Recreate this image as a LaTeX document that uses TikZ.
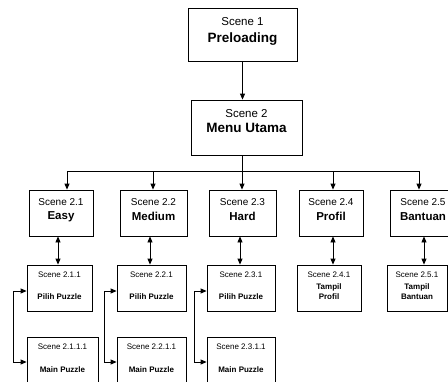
\documentclass[tikz,border=0pt]{standalone}
\usepackage{fontspec}
\setmainfont{Liberation Sans}
\usetikzlibrary{positioning, arrows.meta}

\tikzset{
  box/.style={draw, line width=0.8pt, inner sep=0pt},
  arr/.style={-{Triangle[length=6pt, width=5pt]}, line width=0.8pt},
  dblarr/.style={{Triangle[length=6pt, width=5pt]}-{Triangle[length=6pt, width=5pt]}, line width=0.8pt},
  sctop/.style={font=\fontsize{11.5}{13}\selectfont},
  nmtop/.style={font=\bfseries\fontsize{13.5}{16}\selectfont},
  scmid/.style={font=\fontsize{10}{12}\selectfont},
  nmmid/.style={font=\bfseries\fontsize{11.5}{13}\selectfont},
  scsub/.style={font=\fontsize{8}{10}\selectfont},
  nmsub/.style={font=\bfseries\fontsize{8}{10}\selectfont, align=center}
}

\begin{document}
\begin{tikzpicture}[x=1pt, y=-1pt]
  \useasboundingbox (0,0) rectangle (448,381);
  \clip (0,0) rectangle (448,381);

  % top scenes
  \node[box, minimum width=109pt, minimum height=53pt] (s1) at (242.5,34.5) {};
  \node[sctop] (s1sc) at ([yshift=-14pt]s1.north) {Scene 1};
  \node[nmtop] (s1nm) at ([yshift=-31pt]s1.north) {Preloading};

  \node[box, minimum width=111pt, minimum height=55pt] (s2) at (246.5,127.5) {};
  \node[sctop] (s2sc) at ([yshift=-14pt]s2.north) {Scene 2};
  \node[nmtop] (s2nm) at ([yshift=-28pt]s2.north) {Menu Utama};

  \draw[arr] (s1.south) -- (s1.south |- s2.north);
  \coordinate (bus) at (242.5,171);
  \draw[line width=0.8pt] (s1.south |- s2.south) -- (bus);

  % menu level
  \foreach \id/\sc/\x/\w/\nm/\dx in {%
      21/2.1/61/64/Easy/6,      22/2.2/153.5/67/Medium/-0.5,
      23/2.3/242.5/67/Hard/-0.5, 24/2.4/331/64/Profil/2,
      25/2.5/423/66/Bantuan/-4}
  {
    \node[box, minimum width=\w pt, minimum height=46pt] (s\id) at (\x,213) {};
    \node[scmid] (s\id sc) at ([yshift=-12pt]s\id.north) {Scene \sc};
    \node[nmmid] (s\id nm) at ([yshift=-27pt]s\id.north) {\nm};
    \draw[arr] ([xshift=\dx pt]s\id.north |- bus) -- ([xshift=\dx pt]s\id.north);
  }
  \draw[line width=0.8pt] ([xshift=6pt]s21.north |- bus) -- ([xshift=-4pt]s25.north |- bus);

  % sub scenes
  \foreach \id/\sc/\x/\w/\nm/\off/\dx in {%
      21/2.1.1/59.5/65/Pilih Puzzle/32/-3,
      22/2.2.1/151.5/69/Pilih Puzzle/32/-3.5,
      23/2.3.1/241/68/Pilih Puzzle/32/-2.5,
      24/2.4.1/329/64/Tampil\\Profil/27/2,
      25/2.5.1/417/60/Tampil\\Bantuan/27/1}
  {
    \node[box, minimum width=\w pt, minimum height=46pt] (s\id1) at (\x,288) {};
    \node[scsub] (s\id1sc) at ([yshift=-10pt]s\id1.north) {Scene \sc};
    \node[nmsub] (s\id1nm) at ([yshift=-\off pt]s\id1.north) {\nm};
    \draw[dblarr] ([xshift=\dx pt]s\id.south) -- ([xshift=\dx pt]s\id.south |- s\id1.north);
  }

  % game scenes
  \foreach \id/\sc/\x/\w/\gap in {%
      21/2.1.1.1/62.5/71/13, 22/2.2.1.1/151.5/69/12, 23/2.3.1.1/241/68/12}
  {
    \node[box, minimum width=\w pt, minimum height=50pt] (s\id11) at (\x,362) {};
    \node[scsub] (s\id11sc) at ([yshift=-10pt]s\id11.north) {Scene \sc};
    \node[nmsub] (s\id11nm) at ([yshift=-33pt]s\id11.north) {Main Puzzle};
    \draw[dblarr] ([yshift=-3pt]s\id1.west) -- ++(-\gap,0) |- (s\id11.west);
  }
\end{tikzpicture}
\end{document}
